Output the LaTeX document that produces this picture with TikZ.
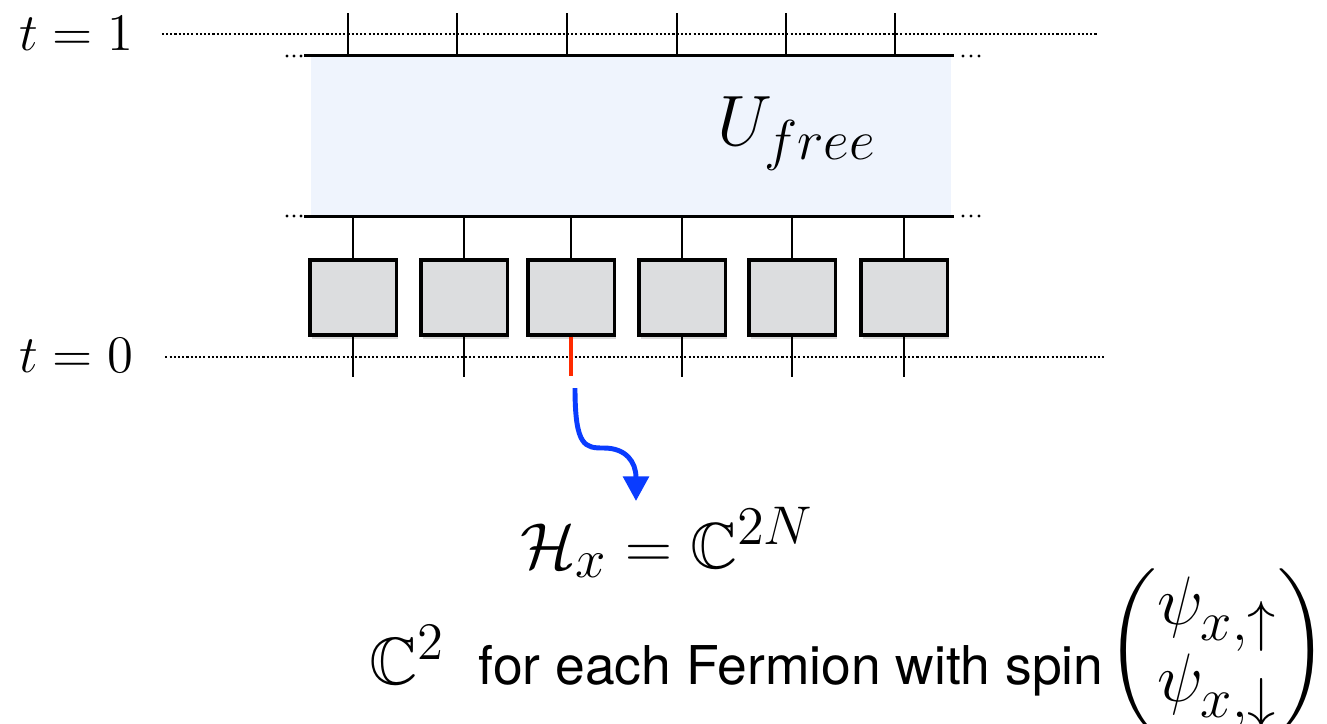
\RequirePackage{fix-cm}
\documentclass[tikz,border=0pt]{standalone}
\usepackage{amsmath,amssymb}
\usepackage{fontspec}
\setsansfont{TeX Gyre Heros}
\usetikzlibrary{arrows.meta,shadows}
\DeclareFontFamily{U}{msb}{}
\DeclareFontShape{U}{msb}{m}{n}{<-6> msbm5 <6-8> msbm7 <8-> msbm10}{}
\DeclareMathSizes{20.3}{20.3}{16}{12}
\DeclareMathSizes{18.5}{18.5}{15.5}{11.5}
\DeclareMathSizes{19}{19}{15}{11.5}
\DeclareMathSizes{19.5}{19.5}{16}{12}
\definecolor{blockblue}{HTML}{EFF4FD}
\definecolor{cellgray}{HTML}{DCDDDF}
\definecolor{flowblue}{HTML}{0A3CFF}
\definecolor{spinred}{HTML}{FF2A00}

\begin{document}
\begin{tikzpicture}[x=0.01cm,y=-0.01cm,
    cell/.style={draw,line width=0.9pt,fill=cellgray,minimum width=24.5pt,minimum height=21.3pt,inner sep=0pt,
      drop shadow={shadow xshift=0.5pt,shadow yshift=-1.2pt,opacity=0.3}},
    leg/.style={line width=0.7pt},
    timeline/.style={line width=0.35pt,dash pattern=on 0.6pt off 0.6pt},
    edge/.style={line width=0.9pt},
    flow/.style={flowblue,line width=1.4pt,-{Triangle[width=7.2pt,length=7pt]}},
    lbl/.style={inner sep=0pt,anchor=base,font=\fontsize{15}{18}\selectfont}]
    \useasboundingbox (0,0) rectangle (1327,723);
    \clip (0,0) rectangle (1327,723);

    % time slices
    \node[lbl] (t1) at (76,50) {$t=1$};
    \node[lbl] (t0) at (76,372) {$t=0$};
    \coordinate (t1end) at (1098,34);
    \coordinate (t0end) at (1105,357);
    \draw[timeline] ([xshift=8pt]t1.east |- t1end) -- (t1end);
    \draw[timeline] ([xshift=9pt]t0.east |- t0end) -- (t0end);

    % free evolution block
    \node[fill=blockblue,inner sep=0pt,minimum width=182.1pt,minimum height=45.5pt] (ufree) at (631,136) {};
    \node[anchor=base,inner sep=0pt,font=\fontsize{20.3}{24}\selectfont] (ulabel) at (797,145) {$U_{free}$};
    \draw[edge] ([xshift=-1.7pt]ufree.north west) -- ([xshift=0.6pt]ufree.north east);
    \draw[edge] ([xshift=-1.7pt]ufree.south west) -- ([xshift=0.6pt]ufree.south east);
    \foreach \d in {287,294,301,963,971,979} {
        \fill (\d,56) circle (0.45pt);
        \fill (\d,216) circle (0.45pt);
    }
    \foreach \x in {348,457,567,677,786,895} {\draw[leg] (\x,56) -- (\x,13);}

    % one-site gates
    \foreach \x [count=\i] in {353,464,571,682,792,904} {
        \node[cell] (c\i) at (\x,297.5) {};
        \draw[leg] (c\i.north) -- (c\i.north |- ufree.south);
    }
    \foreach \i in {1,2,4,5,6} {\draw[leg] (c\i.south) -- ++(0,40);}
    \draw[spinred,line width=1.3pt] (c3.south) -- ++(0,39) coordinate (site);

    % local Hilbert space
    \node[anchor=base,inner sep=0pt,font=\fontsize{18.5}{22}\selectfont] (hx) at (667,568) {$\mathcal{H}_x=\mathbb{C}^{2N}$};
    \coordinate (src) at (575,388);
    \coordinate (tip) at (636,501);
    \draw[flow] (src) .. controls (575,447) and (585,448) .. (604,448) .. controls (626,448) and (636,462) .. (tip);

    \node[anchor=base west,inner sep=0pt,font=\fontsize{19}{22}\selectfont] (cc) at (369,684) {$\mathbb{C}^2$};
    \node[anchor=base west,inner sep=0pt,font=\sffamily\fontsize{15.2}{18}\selectfont] (fermion) at (478,684) {for each Fermion with spin};
    \node[anchor=west,inner sep=0pt,font=\fontsize{19.5}{20.6}\selectfont] (spinor) at (1106,651)
        {$\begin{pmatrix}\psi_{x,\uparrow}\\ \psi_{x,\downarrow}\end{pmatrix}$};
\end{tikzpicture}
\end{document}
